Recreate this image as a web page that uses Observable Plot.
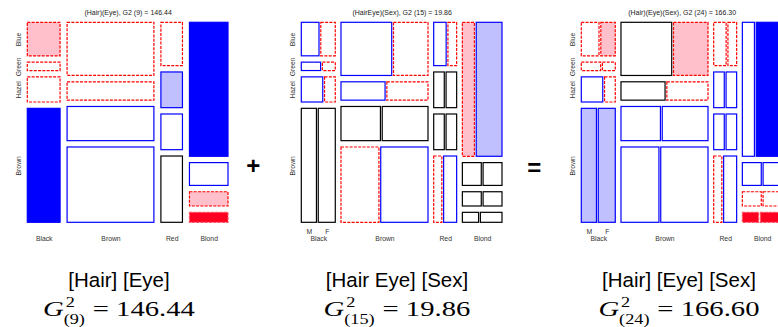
<!DOCTYPE html>
<html><head><meta charset="utf-8">
<script src="https://cdn.jsdelivr.net/npm/d3@7"></script>
<script src="https://cdn.jsdelivr.net/npm/@observablehq/plot@0.6"></script>
<style>
html,body{margin:0;padding:0;background:#fff;overflow:hidden}
#root{position:relative;width:778px;height:327px;overflow:hidden;background:#fff}
.panel{position:absolute;top:0}
</style></head><body><div id="root"></div>
<script>
// ---- data (HairEyeColor counts) ----
const hair = ["Black", "Brown", "Red", "Blond"];
const eye = ["Blue", "Green", "Hazel", "Brown"]; // top to bottom in the mosaic
const sex = ["M", "F"];
const male   = [[11, 3, 10, 32], [50, 15, 25, 53], [10, 7, 7, 10], [30, 8, 5, 3]];
const female = [[9, 2, 5, 36],   [34, 14, 29, 66], [7, 7, 7, 16],  [64, 8, 5, 4]];

// residual shading levels (-3..3), per hair x eye
const shade1  = [[-2, -1, -1, 3], [-1, -1, 1, 1], [-1, 2, 1, 0], [3, 1, -2, -3]];
const shade2M = [[1, 1, 1, 0], [1, 1, 0, -1], [1, 0, 0, -1], [-2, 0, 0, 0]];
const shade2F = [[-1, -1, -1, 0], [-1, -1, 0, 1], [-1, 0, 0, 1], [2, 0, 0, 0]];
const shade3M = [[-1, -1, 1, 2], [0, 0, 1, 1], [-1, 1, 1, -1], [1, 1, -1, -3]];
const shade3F = [[-2, -1, -1, 2], [-2, -1, 1, 1], [-1, 1, 1, 1], [3, 1, -1, -3]];

const titles = ["(Hair)(Eye), G2 (9) = 146.44", "(HairEye)(Sex), G2 (15) = 19.86", "(Hair)(Eye)(Sex), G2 (24) = 166.30"];
const models = ["[Hair] [Eye]", "[Hair Eye] [Sex]", "[Hair] [Eye] [Sex]"];
const dfs = ["(9)", "(15)", "(24)"];
const g2s = ["146.44", "19.86", "166.60"];
const operators = ["+", "="];

// ---- styles ----
const styles = {
  "-3": {fill: "#ff0020", stroke: "#ff5060", dash: true},
  "-2": {fill: "#ffc0cb", stroke: "#ff0000", dash: true},
  "-1": {fill: "#ffffff", stroke: "#ff0000", dash: true},
  "0":  {fill: "#ffffff", stroke: "#000000", dash: false},
  "1":  {fill: "#ffffff", stroke: "#0000ff", dash: false},
  "2":  {fill: "#c0c0ff", stroke: "#0000ff", dash: false},
  "3":  {fill: "#0000ff", stroke: "#0000ff", dash: false}
};

const hairTot = hair.map((h, i) => d3.sum(eye, (e, j) => male[i][j] + female[i][j]));
const N = d3.sum(hairTot);

function mosaic2(g1x, g2y, sh) {
  const tiles = [], labels = {hair: [], eye: [], sex: []};
  const C = 1 - 3 * g1x, H = 1 - 3 * g2y;
  let x = 0;
  hair.forEach((h, i) => {
    const w = hairTot[i] / N * C;
    let y = 1;
    eye.forEach((e, j) => {
      const hgt = (male[i][j] + female[i][j]) / hairTot[i] * H;
      tiles.push({x1: x, x2: x + w, y1: y - hgt, y2: y, ...styles[sh[i][j]]});
      if (i === 0) labels.eye.push({y: y - hgt / 2, text: e});
      y -= hgt + g2y;
    });
    labels.hair.push({x: x + w / 2, text: h});
    x += w + g1x;
  });
  return {tiles, labels};
}

function mosaic3(g1x, g2y, g3x, shM, shF) {
  const tiles = [], labels = {hair: [], eye: [], sex: []};
  const C = 1 - 3 * g1x - 4 * g3x, H = 1 - 3 * g2y;
  let x = 0;
  hair.forEach((h, i) => {
    const W = hairTot[i] / N * C + g3x;
    let y = 1;
    eye.forEach((e, j) => {
      const n = male[i][j] + female[i][j];
      const hgt = n / hairTot[i] * H;
      const wM = male[i][j] / n * (W - g3x);
      tiles.push({x1: x, x2: x + wM, y1: y - hgt, y2: y, ...styles[shM[i][j]]});
      tiles.push({x1: x + wM + g3x, x2: x + W, y1: y - hgt, y2: y, ...styles[shF[i][j]]});
      if (i === 0) {
        labels.eye.push({y: y - hgt / 2, text: e});
        if (j === eye.length - 1) {
          labels.sex.push({x: x + wM / 2, text: sex[0]});
          labels.sex.push({x: x + wM + g3x + (W - wM - g3x) / 2, text: sex[1]});
        }
      }
      y -= hgt + g2y;
    });
    labels.hair.push({x: x + W / 2, text: h});
    x += W + g1x;
  });
  return {tiles, labels};
}

const panels = [
  mosaic2(7 / 200.7, 6.33 / 200, shade1),
  mosaic3(5.7 / 200.6, 6.33 / 200, 1.8 / 200.6, shade2M, shade2F),
  mosaic3(5.7 / 200.6, 6.33 / 200, 1.8 / 200.6, shade3M, shade3F)
];
const lefts = [0, 274.4, 554.4];
const root = document.getElementById("root");

panels.forEach((p, k) => {
  const chart = Plot.plot({
    width: 260, height: 250,
    marginLeft: 27.3, marginRight: 32, marginTop: 22.3, marginBottom: 27.7,
    x: {domain: [0, 1], axis: null},
    y: {domain: [0, 1], axis: null},
    color: {type: "identity"},
    style: {fontFamily: "'Liberation Sans', Arial, sans-serif", fontSize: "7px", background: "transparent", overflow: "visible", color: "#222"},
    marks: [
      Plot.rect(p.tiles.filter(d => !d.dash), {x1: "x1", x2: "x2", y1: "y1", y2: "y2", fill: "fill", stroke: "stroke", strokeWidth: 1.2}),
      Plot.rect(p.tiles.filter(d => d.dash), {x1: "x1", x2: "x2", y1: "y1", y2: "y2", fill: "fill", stroke: "stroke", strokeWidth: 1.2, strokeDasharray: "3,1.3"}),
      Plot.text([titles[k]], {x: 0.5, y: 1.048, text: d => d, fontSize: 7, fill: "#222"}),
      Plot.text(p.labels.hair, {x: "x", y: -0.0795, text: "text", fontSize: 6.8, fill: "#333"}),
      Plot.text(p.labels.sex, {x: "x", y: -0.045, text: "text", fontSize: 6.8, fill: "#333"}),
      Plot.text(p.labels.eye, {x: -0.044, y: "y", text: "text", rotate: -90, fontSize: 6.8, fill: "#333"})
    ]
  });
  chart.classList.add("panel");
  chart.style.left = lefts[k] + "px";
  root.appendChild(chart);
});

// ---- operators and captions ----
const cap = d3.select(root).append("svg")
  .attr("width", 778).attr("height", 327)
  .style("position", "absolute").style("left", "0px").style("top", "0px");

const opPos = [[253.3, 166], [534.3, 167.3]];
operators.forEach((o, k) => {
  cap.append("text").attr("x", opPos[k][0]).attr("y", opPos[k][1] + 8.4)
    .attr("text-anchor", "middle")
    .style("font-family", "'Liberation Sans', Arial, sans-serif")
    .style("font-size", "24px").style("font-weight", "bold").text(o);
});

const centers = [119, 397, 679];
let sx = null;
models.forEach((m, k) => {
  cap.append("text").attr("x", centers[k]).attr("y", 286.7).attr("text-anchor", "middle")
    .style("font-family", "'Liberation Sans', Arial, sans-serif").style("font-size", "20.5px").text(m);
  const g = cap.append("g");
  const t = g.append("text").attr("x", 0).attr("y", 316)
    .style("font-family", "'Liberation Serif', 'Times New Roman', serif").style("font-size", "22px");
  t.append("tspan").style("font-style", "italic").text("G");
  const sp = t.append("tspan").attr("dx", 1.5).attr("dy", -8.5).style("font-size", "14px").text("2");
  const w = sp.node().getComputedTextLength();
  t.append("tspan").attr("dx", -w - 1.5).attr("dy", 16.5).style("font-size", "14px").text(dfs[k]);
  t.append("tspan").attr("dx", 6).attr("dy", -8).text("= " + g2s[k]);
  const bb = t.node().getBBox();
  if (sx === null) sx = 152 / bb.width;
  g.attr("transform", `translate(${centers[k]},0) scale(${sx},1) translate(${-bb.x - bb.width / 2},0)`);
});
</script></body></html>
